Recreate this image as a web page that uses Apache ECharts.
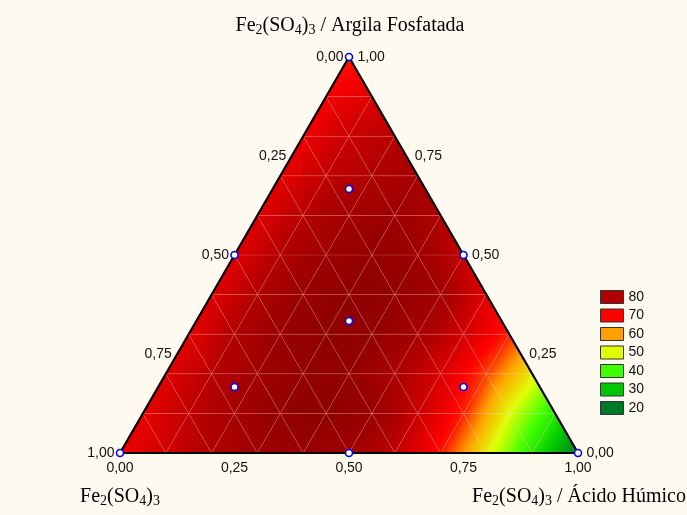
<!DOCTYPE html>
<html>
<head>
<meta charset="utf-8">
<script src="https://cdn.jsdelivr.net/npm/echarts@6/dist/echarts.min.js"></script>
<style>
  html, body { margin: 0; padding: 0; background: #fffaf0; }
  #chart { width: 687px; height: 515px; }
</style>
</head>
<body>
<div id="chart"></div>
<script>
// response, one row per Argila fraction (c = 0.0 ... 1.0),
// each row runs over Ácido Húmico (b) from 0 to 1 - c in steps of 0.1
var row00 = [72, 76, 80, 83, 85, 83, 78, 69, 52, 36, 20]
var row01 = [73, 78, 82, 86, 87, 85, 77, 68, 50, 36]
var row02 = [74, 79, 83, 86, 86, 81, 75, 66, 52]
var row03 = [73, 80, 85, 87, 86, 82, 76, 68]
var row04 = [74, 80, 85, 87, 86, 83, 74]
var row05 = [74, 80, 84, 86, 84, 77]
var row06 = [74, 79, 83, 84, 80]
var row07 = [73, 78, 80, 82]
var row08 = [72, 77, 79]
var row09 = [71, 74]
var row10 = [68]
var rows = [row00, row01, row02, row03, row04, row05, row06, row07, row08, row09, row10]
var step = 0.1

// mixture design points: Fe2(SO4)3 (a), Ácido Húmico (b), Argila (c)
var designA = [1, 0, 0, 0.5, 0.5, 0, 1 / 3, 2 / 3, 1 / 6, 1 / 6]
var designB = [0, 1, 0, 0.5, 0, 0.5, 1 / 3, 1 / 6, 2 / 3, 1 / 6]
var designC = [0, 0, 1, 0, 0.5, 0.5, 1 / 3, 1 / 6, 1 / 6, 2 / 3]

var tickValues = [0, 0.25, 0.5, 0.75, 1]
var tickLabels = ['0,00', '0,25', '0,50', '0,75', '1,00']

var legendValues = [80, 70, 60, 50, 40, 30, 20]
var legendColors = ['#b00000', '#ff0000', '#ffa000', '#e0ff00', '#40ff00', '#00c800', '#007a28']

// colour scale (legend colours plus a darker top end)
var scale = [[90, '#800000']]
legendValues.forEach(function (v, i) { scale.push([v, legendColors[i]]) })
scale.sort(function (p, q) { return p[0] - q[0] })

function hexRgb(h) {
  return [parseInt(h.substr(1, 2), 16), parseInt(h.substr(3, 2), 16), parseInt(h.substr(5, 2), 16)]
}
function colorAt(v) {
  if (v <= scale[0][0]) return scale[0][1]
  if (v >= scale[scale.length - 1][0]) return scale[scale.length - 1][1]
  for (var i = 1; i < scale.length; i++) {
    if (v <= scale[i][0]) {
      var t = (v - scale[i - 1][0]) / (scale[i][0] - scale[i - 1][0])
      var c0 = hexRgb(scale[i - 1][1]), c1 = hexRgb(scale[i][1])
      var c = c0.map(function (x, k) { return Math.round(x + (c1[k] - x) * t) })
      return 'rgb(' + c.join(',') + ')'
    }
  }
}

// ternary (b, c) -> plane coordinates
function toXY(b, c) { return [b + c / 2, c] }

// triangles of the grid: [x0, y0, v0, x1, y1, v1, x2, y2, v2]
var tris = []
function node(i, j) { var p = toXY(j * step, i * step); return [p[0], p[1], rows[i][j]] }
for (var i = 0; i < rows.length - 1; i++) {
  for (var j = 0; j < rows[i].length - 1; j++) {
    tris.push([].concat(node(i, j), node(i, j + 1), node(i + 1, j)))
    if (j < rows[i].length - 2) tris.push([].concat(node(i, j + 1), node(i + 1, j), node(i + 1, j + 1)))
  }
}

// linear gradient that follows the plane through the three vertex values
function fillFor(p, v) {
  var lo = Math.min(v[0], v[1], v[2]), hi = Math.max(v[0], v[1], v[2])
  if (hi - lo < 0.01) return colorAt(lo)
  var e1x = p[1][0] - p[0][0], e1y = p[1][1] - p[0][1]
  var e2x = p[2][0] - p[0][0], e2y = p[2][1] - p[0][1]
  var d1 = v[1] - v[0], d2 = v[2] - v[0]
  var det = e1x * e2y - e1y * e2x
  var gx = (d1 * e2y - d2 * e1y) / det, gy = (d2 * e1x - d1 * e2x) / det
  var g = Math.sqrt(gx * gx + gy * gy)
  var k = v.indexOf(lo)
  var len = (hi - lo) / g
  var stops = []
  for (var s = 0; s <= 8; s++) stops.push({ offset: s / 8, color: colorAt(lo + (hi - lo) * s / 8) })
  return new echarts.graphic.LinearGradient(p[k][0], p[k][1], p[k][0] + gx / g * len, p[k][1] + gy / g * len, stops, true)
}

var font = 'Liberation Sans'
var serif = 'Liberation Serif'

function edgeLabels(pointFn, position, distance) {
  return {
    type: 'scatter',
    symbolSize: 1,
    itemStyle: { color: 'rgba(0,0,0,0)', opacity: 1 },
    silent: true,
    z: 5,
    label: { show: true, position: position, distance: distance, formatter: '{b}', fontFamily: font, fontSize: 14, color: '#111', opacity: 1 },
    data: tickValues.map(function (t, i) { return { name: tickLabels[i], value: pointFn(t) } })
  }
}

var rich = {
  n: { fontFamily: serif, fontSize: 20, color: '#111' },
  s: { fontFamily: serif, fontSize: 14, color: '#111', padding: [9, 0, 0, 0] }
}
function titleText(x, y, text) {
  return { type: 'text', x: x, y: y, style: { text: text, rich: rich, align: 'center', verticalAlign: 'middle' } }
}
var formula = '{n|Fe}{s|2}{n|(SO}{s|4}{n|)}{s|3}'

var series = [
  {
    type: 'custom',
    clip: false,
    silent: true,
    renderItem: function (params, api) {
      var p = [0, 1, 2].map(function (k) { return api.coord([api.value(k * 3), api.value(k * 3 + 1)]) })
      var v = [api.value(2), api.value(5), api.value(8)]
      return {
        type: 'polygon',
        shape: { points: p },
        style: { fill: fillFor(p, v), stroke: 'rgba(255,190,190,0.16)', lineWidth: 0.8 }
      }
    },
    data: tris
  },
  {
    type: 'line',
    symbol: 'none',
    silent: true,
    z: 4,
    lineStyle: { color: '#000', width: 2.2 },
    data: [toXY(0, 0), toXY(1, 0), toXY(0, 1), toXY(0, 0)]
  },
  edgeLabels(function (t) { return toXY(t, 0) }, 'bottom', 8),
  edgeLabels(function (t) { return toXY(0, 1 - t) }, 'left', 5),
  edgeLabels(function (t) { return toXY(1 - t, t) }, 'right', 8),
  {
    type: 'scatter',
    symbol: 'circle',
    symbolSize: 7,
    silent: true,
    z: 6,
    itemStyle: { color: '#fff', borderColor: '#0000ff', borderWidth: 1.6, opacity: 1 },
    data: designA.map(function (a, i) { return toXY(designB[i], designC[i]) })
  }
]

// legend entries only
legendValues.forEach(function (v, i) {
  series.push({ type: 'scatter', name: String(v), data: [], itemStyle: { color: legendColors[i], borderColor: '#333', borderWidth: 1, opacity: 1 } })
})

var chart = echarts.init(document.getElementById('chart'))
chart.setOption({
  backgroundColor: '#fffaf0',
  animation: false,
  grid: { left: 120, top: 57, width: 458, height: 396 },
  xAxis: { type: 'value', min: 0, max: 1, show: false },
  yAxis: { type: 'value', min: 0, max: 1, show: false },
  legend: {
    orient: 'vertical',
    left: 595,
    top: 285,
    icon: 'rect',
    itemWidth: 23,
    itemHeight: 13,
    itemGap: 4.5,
    selectedMode: false,
    itemStyle: { borderColor: '#333', borderWidth: 1, opacity: 1 },
    textStyle: { fontFamily: font, fontSize: 14, color: '#111' },
    data: legendValues.map(String)
  },
  graphic: [
    titleText(350, 26, formula + '{n| / Argila Fosfatada}'),
    titleText(120, 497, formula),
    titleText(579, 497, formula + '{n| / Ácido Húmico}')
  ],
  series: series
})
</script>
</body>
</html>
